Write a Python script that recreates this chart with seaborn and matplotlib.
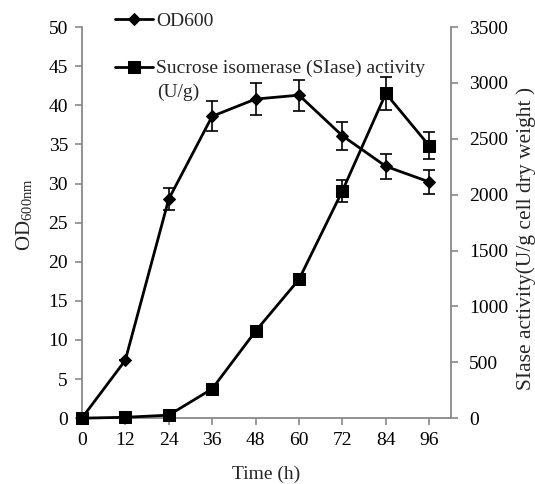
import numpy as np
import matplotlib
matplotlib.use("Agg")
import matplotlib.pyplot as plt
import seaborn as sns
import pandas as pd

# values
time_h = [0, 12, 24, 36, 48, 60, 72, 84, 96]
od600 = [0, 7.4, 28.0, 38.6, 40.8, 41.3, 36.1, 32.2, 30.2]
od600_err = [0, 0, 1.4, 1.9, 2.0, 2.0, 1.8, 1.6, 1.5]
siase = [0, 8, 27, 262, 779, 1242, 2035, 2906, 2437]
siase_err = [0, 0, 0, 0, 0, 45, 100, 145, 120]

sns.set_theme(style="white")
plt.rcParams['font.family'] = ['Liberation Serif', 'DejaVu Serif']
plt.rcParams['mathtext.fontset'] = 'stix'

grey = '#898989'
fs = 14
df = pd.DataFrame({'time': time_h, 'od': od600, 'siase': siase})

fig = plt.figure(figsize=(5.35, 4.84), dpi=100)
ax = fig.add_axes([0.153, 0.136, 0.690, 0.808])
ax2 = ax.twinx()

sns.lineplot(data=df, x='time', y='od', ax=ax, color='black', lw=2,
             marker='D', markersize=6, markeredgecolor='black', clip_on=False,
             label='OD600', legend=False)
ax.errorbar(time_h, od600, yerr=od600_err, fmt='none', ecolor='black',
            elinewidth=1.2, capsize=4, capthick=1.2, clip_on=False)

sns.lineplot(data=df, x='time', y='siase', ax=ax2, color='black', lw=2,
             marker='s', markersize=9, markeredgecolor='black', clip_on=False,
             label='Sucrose isomerase (SIase) activity', legend=False)
ax2.errorbar(time_h, siase, yerr=siase_err, fmt='none', ecolor='black',
             elinewidth=1.2, capsize=4, capthick=1.2, clip_on=False)

ax.set_xlim(0, 102)
ax.set_ylim(0, 50)
ax2.set_ylim(0, 3500)
ax.set_xticks(time_h)
ax.set_yticks(np.arange(0, 51, 5))
ax2.set_yticks(np.arange(0, 3501, 500))

for a in (ax, ax2):
    for s in a.spines.values():
        s.set_color(grey)
        s.set_linewidth(1.3)
    a.spines['top'].set_visible(False)
ax.spines['right'].set_visible(False)
ax2.spines['left'].set_visible(False)
ax2.spines['bottom'].set_visible(False)

ax.tick_params(axis='both', which='major', direction='out', length=5,
               width=1.2, color=grey, labelsize=fs, labelcolor='black',
               bottom=True, left=True, pad=5)
ax2.tick_params(axis='y', direction='out', length=5, width=1.2, color=grey,
                labelsize=fs, labelcolor='black', right=True, pad=8)

ax.set_xlabel('Time (h)', fontsize=fs, labelpad=12)
ax.set_ylabel(r'OD$_{\mathregular{600nm}}$', fontsize=15)
ax2.set_ylabel('SIase activity(U/g cell dry weight )', fontsize=15.5)
ax.yaxis.set_label_coords(-0.125, 0.52)
ax2.yaxis.set_label_coords(1.178, 0.46)
ax.grid(False)
ax2.grid(False)

h1, l1 = ax.get_legend_handles_labels()
h2, l2 = ax2.get_legend_handles_labels()
fig.legend(h1 + h2, l1 + l2, loc='upper left', bbox_to_anchor=(0.215, 0.974),
           frameon=False, fontsize=fs, handlelength=1.95, handletextpad=0.15,
           labelspacing=1.52, borderpad=0, borderaxespad=0)
fig.text(0.293, 0.81, '(U/g)', fontsize=fs, va='center', ha='left')

fig.savefig('out.png', dpi=100)
